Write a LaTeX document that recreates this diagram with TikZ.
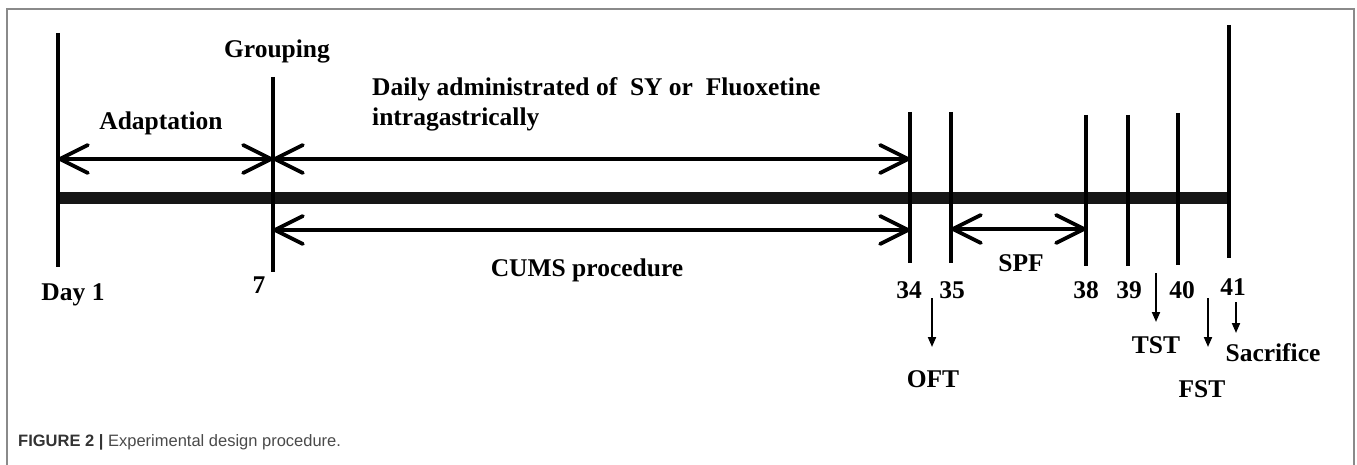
\documentclass[tikz,border=0pt]{standalone}
\usepackage{fontspec}
\setmainfont{Liberation Serif}
\newfontfamily\capfont{Liberation Sans}
\usetikzlibrary{arrows.meta}
\definecolor{framegray}{HTML}{8A8A8A}
\definecolor{capdark}{HTML}{333333}
\definecolor{captext}{HTML}{4A4A4A}
\definecolor{bardark}{HTML}{161616}
\tikzset{
  tickline/.style={line width=4.8pt, line cap=butt},
  timebar/.style={line width=12pt, color=bardark},
  span/.style={line width=3.8pt, {Straight Barb[length=28pt,width=28pt,round]}-{Straight Barb[length=28pt,width=28pt,round]}},
  downarrow/.style={line width=2pt, -{Triangle[length=10pt,width=8pt]}},
  lbl/.style={font=\bfseries\fontsize{25.5}{30}\selectfont, inner sep=0pt, anchor=base},
}
\begin{document}
\begin{tikzpicture}[x=1pt,y=-1pt]
\useasboundingbox (0,0) rectangle (1357,465);
% frame
\coordinate (fbl) at (7,465);
\coordinate (ftl) at (7,9);
\coordinate (ftr) at (1354,9);
\coordinate (fbr) at (1354,465);
\draw[framegray, line width=2pt] (fbl) -- (ftl) -- (ftr) -- (fbr);
% tick coordinates
\coordinate (t1a) at (58,33);    \coordinate (t1b) at (58,267);
\coordinate (t7a) at (273,77);   \coordinate (t7b) at (273,272);
\coordinate (t34a) at (910,112); \coordinate (t34b) at (910,263);
\coordinate (t35a) at (951,112); \coordinate (t35b) at (951,263);
\coordinate (t38a) at (1086,115);\coordinate (t38b) at (1086,266);
\coordinate (t39a) at (1128,115);\coordinate (t39b) at (1128,266);
\coordinate (t40a) at (1178,113);\coordinate (t40b) at (1178,265);
\coordinate (t41a) at (1229,25); \coordinate (t41b) at (1229,258);
% main bar
\coordinate (barL) at (58,198);
\coordinate (barR) at (1229,198);
\draw[timebar] (barL) -- (barR);
% ticks
\foreach \t in {1,7,34,35,38,39,40,41}{
  \draw[tickline] (t\t a) -- (t\t b);
}
% spans
\coordinate (u1) at (58,159);
\coordinate (u7) at (273,159);
\coordinate (u34) at (910,159);
\coordinate (l7) at (273,230);
\coordinate (l34) at (910,230);
\coordinate (s35) at (951,229);
\coordinate (s38) at (1086,229);
\draw[span] (u1) -- (u7);
\draw[span] (u7) -- (u34);
\draw[span] (l7) -- (l34);
\draw[span] (s35) -- (s38);
% labels
\node[lbl] (grouping) at (277,58) {Grouping};
\node[lbl] (adapt) at (161,130) {Adaptation};
\node[lbl, anchor=base west] (daily1) at (372,96) {Daily administrated of\ \ SY or\ \ Fluoxetine};
\node[lbl, anchor=base west] (daily2) at (372,126) {intragastrically};
\node[lbl] (cums) at (587,276) {CUMS procedure};
\node[lbl] (spf) at (1021,271) {SPF};
\node[lbl] (d1) at (73,300) {Day 1};
\node[lbl] (d7) at (259,293) {7};
\node[lbl] (d34) at (909,298) {34};
\node[lbl] (d35) at (952,298) {35};
\node[lbl] (d38) at (1086,298) {38};
\node[lbl] (d39) at (1129,298) {39};
\node[lbl] (d40) at (1182,298) {40};
\node[lbl] (d41) at (1233,295) {41};
\node[lbl] (oft) at (933,387) {OFT};
\node[lbl] (tst) at (1156,353) {TST};
\node[lbl] (fst) at (1202,397) {FST};
\node[lbl] (sac) at (1273,361) {Sacrifice};
% down arrows
\coordinate (oftA) at (932,298); \coordinate (oftB) at (932,347);
\coordinate (tstA) at (1156,273); \coordinate (tstB) at (1156,322);
\coordinate (fstA) at (1208,298); \coordinate (fstB) at (1208,347);
\coordinate (sacA) at (1236,302); \coordinate (sacB) at (1236,333);
\draw[downarrow] (oftA) -- (oftB);
\draw[downarrow] (tstA) -- (tstB);
\draw[downarrow] (fstA) -- (fstB);
\draw[downarrow] (sacA) -- (sacB);
% caption
\node[inner sep=0pt, anchor=base west, font=\capfont\fontsize{16.5}{20}\selectfont] (cap) at (18,446)
  {\textcolor{capdark}{\bfseries FIGURE 2 |} \textcolor{captext}{Experimental design procedure.}};
\end{tikzpicture}
\end{document}
